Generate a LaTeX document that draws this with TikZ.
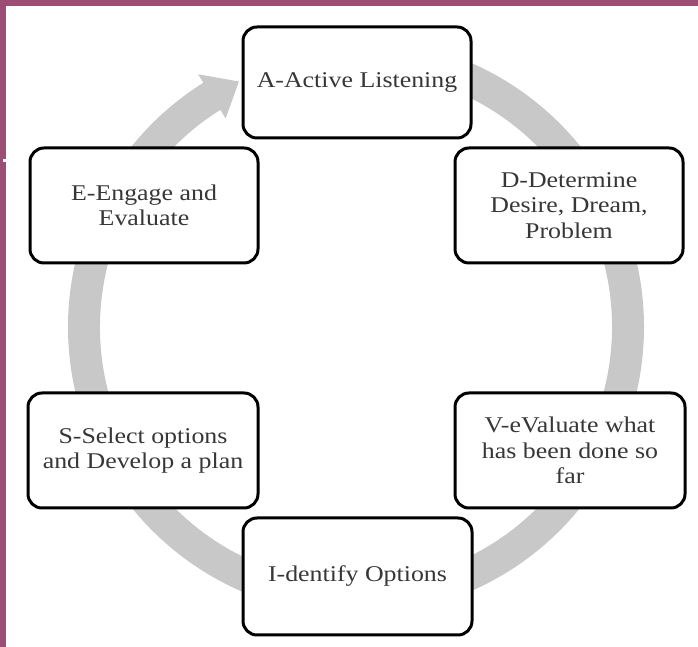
\documentclass[tikz,border=0pt]{standalone}
\usepackage{fontspec}
\setmainfont{Liberation Serif}[FakeStretch=1.15]
\definecolor{frame}{RGB}{155,77,115}
\definecolor{band}{RGB}{200,200,200}
\definecolor{txt}{RGB}{55,55,55}
\begin{document}
\begin{tikzpicture}[x=1pt,y=1pt,
  box/.style={draw=black, line width=3pt, rounded corners=14pt, fill=white,
    align=center, text=txt, inner sep=2pt,
    font=\fontsize{22.5}{25.5}\selectfont}]
\useasboundingbox (0,0) rectangle (698,647);
\fill[white] (0,0) rectangle (698,647);
% border
\fill[frame] (0,641) rectangle (698,647);
\fill[frame] (0,0) rectangle (6,647);
\fill[white] (3,485) rectangle (8,488);
% circular arrow
\begin{scope}[shift={(356,320)}]
\fill[band] (90:288pt) arc[start angle=90,end angle=-238,radius=288pt]
  -- (-238:298pt) -- (-244.5:272pt) -- (-238:246pt) -- (-238:256pt)
  arc[start angle=-238,end angle=90,radius=256pt] -- cycle;
\end{scope}
% boxes
\node[box, minimum width=228pt, minimum height=111pt] (A) at (357,564.5) {A-Active Listening};
\node[box, minimum width=228pt, minimum height=115pt] (D) at (569,441.5) {D-Determine\\Desire, Dream,\\Problem};
\node[box, minimum width=228pt, minimum height=115pt] (E) at (144,441.5) {E-Engage and\\Evaluate};
\node[box, minimum width=230pt, minimum height=115pt] (S) at (143,196.5) {S-Select options\\and Develop a plan};
\node[box, minimum width=230pt, minimum height=115pt] (V) at (570,196.5) {V-eValuate what\\has been done so\\far};
\node[box, minimum width=229pt, minimum height=117pt] (I) at (357.5,70.5) {I-dentify Options};
\end{tikzpicture}
\end{document}
